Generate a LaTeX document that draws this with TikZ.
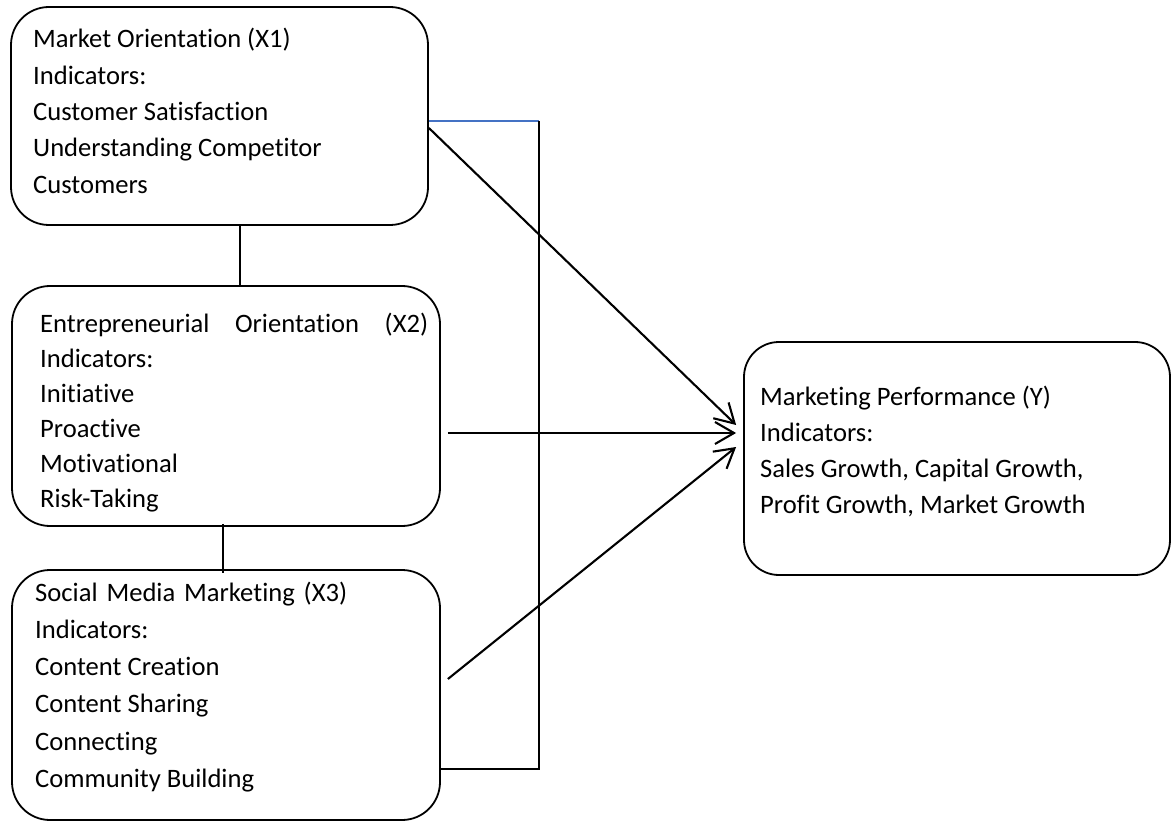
\documentclass[tikz,border=0pt]{standalone}
\usepackage{fontspec}
\setmainfont{Carlito}[Ligatures=NoCommon]
\usetikzlibrary{arrows.meta}
\definecolor{linkblue}{RGB}{68,114,196}
\begin{document}
\begin{tikzpicture}[x=1pt,y=-1pt,
  box/.style={draw, line width=1.8pt, rounded corners=38pt, inner sep=0pt},
  txt/.style={anchor=base west, inner sep=0pt, font=\fontsize{26.6}{#1}\selectfont},
  link/.style={line width=1.9pt},
  arr/.style={line width=2.1pt, -{Straight Barb[length=19pt,width=22pt,line width=2.1pt]}}]
\useasboundingbox (0,0) rectangle (1171,821);

% boxes
\node[box, minimum width=417pt, minimum height=218pt] (X1) at (219.5,116) {};
\node[box, minimum width=428pt, minimum height=240pt] (X2) at (226,406) {};
\node[box, minimum width=428pt, minimum height=250pt] (X3) at (226,695) {};
\node[box, minimum width=426pt, minimum height=233pt, rounded corners=35pt] (Y) at (957,458.5) {};

% box texts
\node[txt=36.3] (X1t) at (33,48) {\begin{tabular}[t]{@{}l@{}}
Market Orientation (X1)\\
Indicators:\\
Customer Satisfaction\\
Understanding Competitor\\
Customers\end{tabular}};
\node[txt=35] (X2t) at (40,333) {\begin{tabular}[t]{@{}l@{}}
\makebox[388pt][s]{Entrepreneurial\hfill Orientation\hfill (X2)}\\
Indicators:\\
Initiative\\
Proactive\\
Motivational\\
Risk-Taking\end{tabular}};
\node[txt=37.3] (X3t) at (35,601) {\begin{tabular}[t]{@{}l@{}}
\makebox[312pt][s]{Social\hfill Media\hfill Marketing\hfill (X3)}\\
Indicators:\\
Content Creation\\
Content Sharing\\
Connecting\\
Community Building\end{tabular}};
\node[txt=36.3] (Yt) at (760,405) {\begin{tabular}[t]{@{}l@{}}
Marketing Performance (Y)\\
Indicators:\\
Sales Growth, Capital Growth,\\
Profit Growth, Market Growth\end{tabular}};

% links between the independent variables
\draw[link] ([shift={(20.5,0)}]X1.south) -- ([shift={(14,0)}]X2.north);
\draw[link] ([shift={(-3,-3)}]X2.south) -- ([shift={(-3,4)}]X3.north);
\coordinate (rt) at ([shift={(110,5)}]X1.east);
\draw[linkblue, line width=1.2pt] ([shift={(0,5)}]X1.east) -- (rt);
\draw[link] (rt) |- ([shift={(0,74)}]X3.east);

% arrows to marketing performance
\draw[arr] ([shift={(0,12)}]X1.east) -- ([shift={(-7,-33.5)}]Y.west);
\draw[arr] ([shift={(7,27)}]X2.east) -- ([shift={(-7,-25.5)}]Y.west);
\draw[arr] ([shift={(7,-16)}]X3.east) -- ([shift={(-7,-11.5)}]Y.west);
\end{tikzpicture}
\end{document}
